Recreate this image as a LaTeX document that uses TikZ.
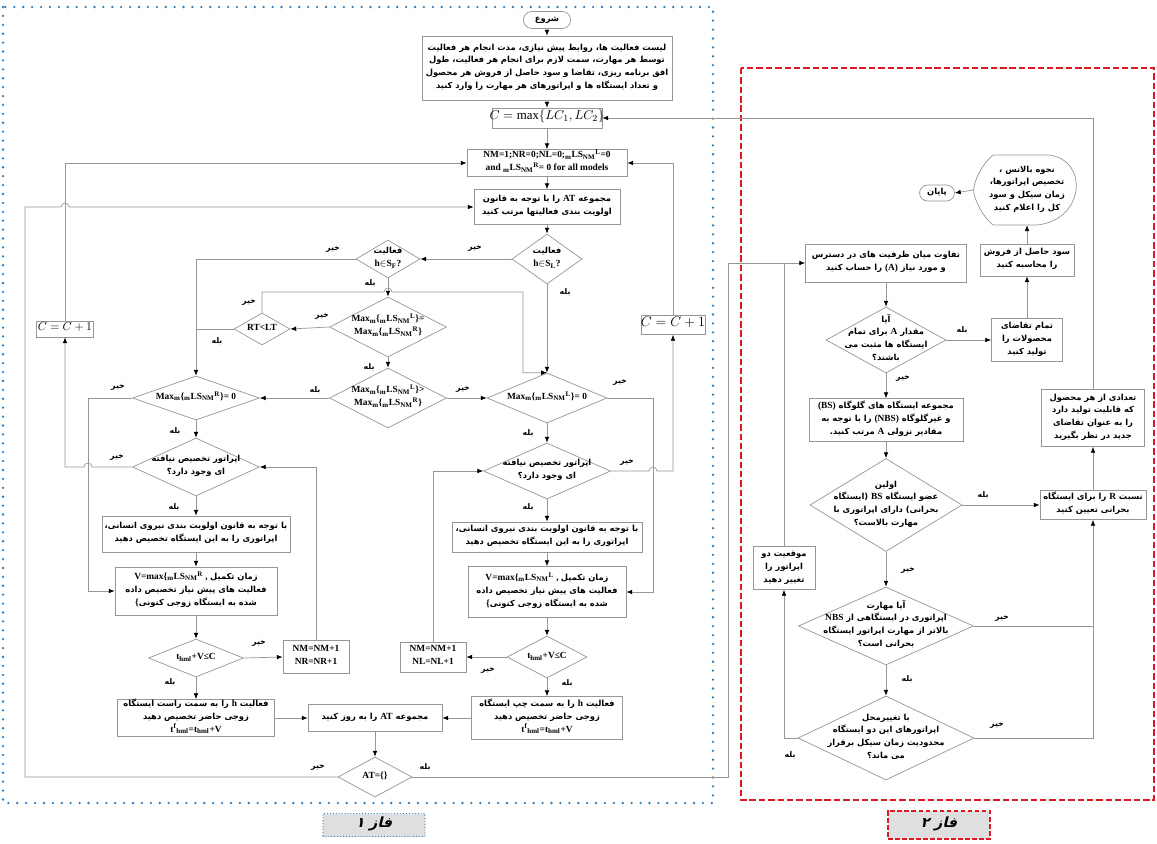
\documentclass[tikz,border=0pt]{standalone}
\usepackage{fontspec}
\setmainfont{Liberation Serif}
\newfontfamily\farsi[Script=Arabic,Scale=0.89]{DejaVu Sans}
\newfontfamily\farsislant[Script=Arabic,FakeSlant=0.25]{DejaVu Sans}
\usetikzlibrary{shapes,arrows.meta,positioning,calc}
\TeXXeTstate=1
\definecolor{phaseblue}{RGB}{45,125,185}
\definecolor{phasered}{RGB}{220,25,35}
\definecolor{linegray}{RGB}{150,150,150}
\newcommand\fnt{\fontsize{8}{11}\selectfont\bfseries}
\newcommand\fsml{\fontsize{7.5}{8}\selectfont\bfseries}
\newcommand\fa[1]{{\farsi\beginR #1\endR}}
\newcommand\la[1]{{\rmfamily #1}}
\newcommand\boxtext[1]{\makebox[0pt]{\raisebox{-.25em}{\smash{\begin{tabular}{@{}c@{}}#1\end{tabular}}}}}
\newcommand\mls[1]{\textsubscript{m}LS\textsubscript{NM}\textsuperscript{#1}}
\newcommand\yes{\fa{بله}}
\newcommand\no{\fa{خیر}}
\tikzset{
  proc/.style={draw=linegray, line width=0.6pt, fill=white, inner sep=0pt, font=\fnt},
  dec/.style={diamond, draw=linegray, line width=0.6pt, fill=white, inner sep=0pt, font=\fnt},
  term/.style={proc, rounded corners=7pt},
  lab/.style={font=\fsml, inner sep=0pt},
  flow/.style={draw=linegray, line width=0.6pt},
  arr/.style={flow, -{Latex[length=5pt,width=4pt,color=black]}},
  phaseone/.style={draw=phaseblue, line width=2.2pt, line cap=round, dash pattern=on 0pt off 7.6pt},
  phasetwo/.style={draw=phasered, line width=2.4pt, dash pattern=on 5.5pt off 2.5pt},
  tagone/.style={fill=gray!25, draw=phaseblue, line width=1pt, line cap=round, dash pattern=on 0pt off 2.5pt, inner sep=0pt, font=\fnt},
  tagtwo/.style={fill=gray!25, draw=phasered, line width=2pt, dash pattern=on 4pt off 2pt, inner sep=0pt, font=\fnt}
}

\begin{document}
\begin{tikzpicture}[x=0.03cm, y=-0.03cm]
\useasboundingbox (0,0) rectangle (1157,843);

% phase frames
\draw[phaseone] (3,7) rectangle (713,803);
\draw[phasetwo] (741,68) rectangle (1154,800);
\node[tagone, minimum width=3.06cm, minimum height=0.69cm] (faz1) at (374,825) {\boxtext{\fontsize{12}{14}\selectfont\farsislant\beginR فاز ۱\endR}};
\node[tagtwo, minimum width=3.06cm, minimum height=0.84cm] (faz2) at (939,825) {\boxtext{\fontsize{12}{14}\selectfont\farsislant\beginR فاز ۲\endR}};

% phase 1: main column
\node[term, minimum width=1.41cm, minimum height=0.51cm] (start) at (547,20) {\boxtext{\fa{شروع}}};
\node[proc, minimum width=7.5cm, minimum height=1.92cm] (input) at (547,68) {\boxtext{%
  \fa{لیست فعالیت ها، روابط پیش نیازی، مدت انجام هر فعالیت}\\
  \fa{توسط هر مهارت، سمت لازم برای انجام هر فعالیت، طول}\\
  \fa{افق برنامه ریزی، تقاضا و سود حاصل از فروش هر محصول}\\
  \fa{و تعداد ایستگاه ها و اپراتورهای هر مهارت را وارد کنید}}};
\node[proc, minimum width=3.3cm, minimum height=0.6cm] (cmax) at (547,118) {\boxtext{\fontsize{11}{12}\selectfont\mdseries $C=\max\{LC_1,LC_2\}$}};
\node[proc, minimum width=4.8cm, minimum height=0.81cm] (init) at (547,163) {\boxtext{NM=1;NR=0;NL=0;\mls{L}=0\\and \mls{R}= 0 for all models}};
\node[proc, minimum width=4.38cm, minimum height=1.05cm] (sortAT) at (547,207) {\boxtext{\fa{مجموعه \la{AT} را با توجه به قانون}\\\fa{اولویت بندی فعالیتها مرتب کنید}}};
\node[dec, minimum width=2.1cm, minimum height=1.5cm] (hcsL) at (547,259) {\boxtext{\fa{فعالیت}\\h$\in$S\textsubscript{L}?}};
\node[dec, minimum width=1.92cm, minimum height=1.14cm] (hcsF) at (388,259) {\boxtext{\fa{فعالیت}\\h$\in$S\textsubscript{F}?}};

% phase 1: comparison of the two sides
\node[dec, minimum width=3.51cm, minimum height=1.8cm] (maxeq) at (388,327) {\boxtext{Max\textsubscript{m}\{\mls{L}\}=\\Max\textsubscript{m}\{\mls{R}\}}};
\node[dec, minimum width=1.68cm, minimum height=0.96cm] (rtlt) at (262,329) {\boxtext{RT<LT}};
\node[dec, minimum width=3.51cm, minimum height=1.8cm] (maxgt) at (388,398) {\boxtext{Max\textsubscript{m}\{\mls{L}\}>\\Max\textsubscript{m}\{\mls{R}\}}};
\node[dec, minimum width=3.81cm, minimum height=1.32cm] (maxR) at (196,398) {\boxtext{Max\textsubscript{m}\{\mls{R}\}= 0}};
\node[dec, minimum width=3.6cm, minimum height=1.5cm] (maxL) at (547,398) {\boxtext{Max\textsubscript{m}\{\mls{L}\}= 0}};

% phase 1: right side of the pair station
\node[dec, minimum width=3.81cm, minimum height=1.74cm] (opR) at (196,467) {\boxtext{\fa{اپراتور تخصیص نیافته}\\\fa{ای وجود دارد؟}}};
\node[proc, minimum width=5.64cm, minimum height=1.08cm] (asgR) at (196,534) {\boxtext{\fa{با توجه به قانون اولویت بندی نیروی انسانی،}\\\fa{اپراتوری را به این ایستگاه تخصیص دهید}}};
\node[proc, minimum width=4.86cm, minimum height=1.44cm] (vR) at (196,591) {\boxtext{V=max\{\mls{R} ,\ \fa{زمان تکمیل}\\\fa{فعالیت های پیش نیاز تخصیص داده}\\\{\fa{شده به ایستگاه زوجی کنونی}}};
\node[dec, minimum width=2.85cm, minimum height=1.14cm] (tR) at (196,658) {\boxtext{t\textsubscript{hml}+V≤C}};
\node[proc, minimum width=1.98cm, minimum height=0.99cm] (nR) at (316,657) {\boxtext{NM=NM+1\\NR=NR+1}};
\node[proc, minimum width=4.71cm, minimum height=1.11cm] (rightR) at (196,718) {\boxtext{\fa{فعالیت \la{h} را به سمت راست ایستگاه}\\\fa{زوجی حاضر تخصیص دهید}\\t\textsuperscript{f}\textsubscript{hml}=t\textsubscript{hml}+V}};
\node[proc, minimum width=1.71cm, minimum height=0.48cm] (ccL) at (65,329) {\boxtext{\fontsize{10}{11}\selectfont\mdseries $C=C+1$}};

% phase 1: left side of the pair station
\node[dec, minimum width=3.81cm, minimum height=1.68cm] (opL) at (547,471) {\boxtext{\fa{اپراتور تخصیص نیافته}\\\fa{ای وجود دارد؟}}};
\node[proc, minimum width=5.7cm, minimum height=0.9cm] (asgL) at (547,537) {\boxtext{\fa{با توجه به قانون اولویت بندی نیروی انسانی،}\\\fa{اپراتوری را به این ایستگاه تخصیص دهید}}};
\node[proc, minimum width=4.74cm, minimum height=1.53cm] (vL) at (547,592) {\boxtext{V=max\{\mls{L} ,\ \fa{زمان تکمیل}\\\fa{فعالیت های پیش نیاز تخصیص داده}\\\{\fa{شده به ایستگاه زوجی کنونی}}};
\node[dec, minimum width=2.4cm, minimum height=1.26cm] (tL) at (547,657) {\boxtext{t\textsubscript{hml}+V≤C}};
\node[proc, minimum width=1.98cm, minimum height=0.9cm] (nL) at (433,657) {\boxtext{NM=NM+1\\NL=NL+1}};
\node[proc, minimum width=4.53cm, minimum height=1.29cm] (leftL) at (547,718) {\boxtext{\fa{فعالیت \la{h} را به سمت چپ ایستگاه}\\\fa{زوجی حاضر تخصیص دهید}\\t\textsuperscript{f}\textsubscript{hml}=t\textsubscript{hml}+V}};
\node[proc, minimum width=1.92cm, minimum height=0.57cm] (ccR) at (673,325) {\boxtext{\fontsize{11.5}{13}\selectfont\mdseries $C=C+1$}};
\node[proc, minimum width=4.02cm, minimum height=0.81cm] (updAT) at (375,718) {\boxtext{\fa{مجموعه \la{AT} را به روز کنید}}};
\node[dec, minimum width=2.22cm, minimum height=1.2cm] (atE) at (375,777) {\boxtext{AT=\{\}}};

% phase 2
\node[proc, minimum width=4.83cm, minimum height=1.14cm] (diff) at (886,263) {\boxtext{\fa{تفاوت میان ظرفیت های در دسترس}\\\fa{و مورد نیاز \la{(A)} را حساب کنید}}};
\node[dec, minimum width=3.6cm, minimum height=1.98cm] (posA) at (886,340) {\boxtext{\fa{آیا}\\\fa{مقدار \la{A} برای تمام}\\\fa{ایستگاه ها مثبت می}\\\fa{باشند؟}}};
\node[proc, minimum width=2.13cm, minimum height=1.29cm] (prod) at (1027,340) {\boxtext{\fa{تمام تقاضای}\\\fa{محصولات را}\\\fa{تولید کنید}}};
\node[proc, minimum width=2.82cm, minimum height=0.96cm] (profit) at (1027,260) {\boxtext{\fa{سود حاصل از فروش}\\\fa{را محاسبه کنید}}};
\node[inner sep=0pt, font=\fnt, minimum width=3.21cm, minimum height=2.1cm] (report) at (1027,190) {\boxtext{\fa{نحوه بالانس ،}\\\fa{تخصیص اپراتورها،}\\\fa{زمان سیکل و سود}\\\fa{کل را اعلام کنید}}};
\draw[flow, shift={(report.center)}] (-34,-35) -- (22,-35) .. controls (62,-30) and (58,30) .. (10,35) -- (-34,35)
  .. controls (-46,25) and (-53,8) .. (-53.5,0) .. controls (-53,-8) and (-46,-25) .. (-34,-35) -- cycle;
\node[term, minimum width=1.05cm, minimum height=0.48cm] (endn) at (937,193) {\boxtext{\fa{پایان}}};
\node[proc, minimum width=4.62cm, minimum height=1.29cm] (sortBS) at (886,420) {\boxtext{\fa{مجموعه ایستگاه های گلوگاه \la{(BS)}}\\\fa{و غیرگلوگاه \la{(NBS)} را با توجه به}\\\fa{مقادیر نزولی \la{A} مرتب کنید.}}};
\node[dec, minimum width=4.56cm, minimum height=2.79cm] (firstBS) at (886,505) {\boxtext{\fa{اولین}\\\fa{عضو ایستگاه \la{BS} (ایستگاه}\\\fa{بحرانی) دارای اپراتوری با}\\\fa{مهارت بالاست؟}}};
\node[proc, minimum width=3.18cm, minimum height=0.87cm] (ratio) at (1093,505) {\boxtext{\fa{نسبت \la{R} را برای ایستگاه}\\\fa{بحرانی تعیین کنید}}};
\node[proc, minimum width=3.09cm, minimum height=1.71cm] (newdem) at (1093,418) {\boxtext{\fa{تعدادی از هر محصول}\\\fa{که قابلیت تولید دارد}\\\fa{را به عنوان تقاضای}\\\fa{جدید در نظر بگیرید}}};
\node[dec, minimum width=5.25cm, minimum height=2.34cm] (skill) at (886,626) {\boxtext{\fa{آیا مهارت}\\\fa{اپراتوری در ایستگاهی از \la{NBS}}\\\fa{بالاتر از مهارت اپراتور ایستگاه}\\\fa{بحرانی است؟}}};
\node[dec, minimum width=5.28cm, minimum height=2.52cm] (swap) at (886,738) {\boxtext{\fa{با تغییرمحل}\\\fa{اپراتورهای این دو ایستگاه}\\\fa{محدودیت زمان سیکل برقرار}\\\fa{می ماند؟}}};
\node[proc, minimum width=1.86cm, minimum height=1.29cm] (move) at (784,568) {\boxtext{\fa{موقعیت دو}\\\fa{اپراتور را}\\\fa{تغییر دهید}}};

% helper points for bends and line jumps
\coordinate (barY) at (0,292);
\coordinate (turnB) at (523,292);
\coordinate (jmpA) at (hcsF.south |- barY);
\coordinate (edgeW) at (25,0);
\coordinate (edgeE) at (728,0);
\coordinate (xRR) at (88,0);
\coordinate (xLL) at (653,0);
\coordinate (jmpB) at (ccL.north |- sortAT.west);
\coordinate (jmpC) at (xRR |- opR.west);
\coordinate (jmpD) at (xLL |- opL.east);

% phase 1 connectors
\draw[arr] (start.south) -- (input.north);
\draw[arr] (input.south) -- (cmax.north);
\draw[arr] (cmax.south) -- (init.north);
\draw[arr] (init.south) -- (sortAT.north);
\draw[arr] (sortAT.south) -- (hcsL.north);
\draw[arr] (hcsL.west) -- (hcsF.east);
\draw[arr] (hcsF.west) -| (maxR.north);
\draw[arr] (hcsF.south) -- (maxeq.north);
\draw[arr] (rtlt.north) |- ($(jmpA)+(-4,0)$) arc[start angle=180, end angle=0, radius=3.4pt] -- (turnB) |- (maxL.north);
\draw[arr] (hcsL.south) -- (maxL.north);
\draw[arr] (maxeq.west) -- (rtlt.east);
\draw[flow] (rtlt.west) -- (rtlt.west -| maxR.north);
\draw[arr] (maxeq.south) -- (maxgt.north);
\draw[arr] (maxgt.west) -- (maxR.east);
\draw[arr] (maxgt.east) -- (maxL.west);

\draw[arr] (maxR.south) -- (opR.north);
\draw[arr] (maxR.west) -| (xRR |- vR.west) -- (vR.west);
\draw[arr] (opR.west) -- ($(jmpC)+(4,0)$) arc[start angle=0, end angle=180, radius=3.4pt] -| (ccL.south);
\draw[arr] (ccL.north) |- (init.west);
\draw[arr] (opR.south) -- (asgR.north);
\draw[arr] (asgR.south) -- (vR.north);
\draw[arr] (vR.south) -- (tR.north);
\draw[arr] (tR.east) -- (nR.west);
\draw[arr] (nR.north) |- (opR.east);
\draw[arr] (tR.south) -- (rightR.north);
\draw[arr] (rightR.east) -- (updAT.west);

\draw[arr] (maxL.south) -- (opL.north);
\draw[arr] (maxL.east) -| (xLL |- vL.east) -- (vL.east);
\draw[arr] (opL.east) -- ($(jmpD)+(-4,0)$) arc[start angle=180, end angle=0, radius=3.4pt] -| (ccR.south);
\draw[arr] (ccR.north) |- (init.east);
\draw[arr] (opL.south) -- (asgL.north);
\draw[arr] (asgL.south) -- (vL.north);
\draw[arr] (vL.south) -- (tL.north);
\draw[arr] (tL.west) -- (nL.east);
\draw[arr] (nL.north) |- (opL.west);
\draw[arr] (tL.south) -- (leftL.north);
\draw[arr] (leftL.west) -- (updAT.east);

\draw[arr] (updAT.south) -- (atE.north);
\draw[arr] (atE.west) -| (edgeW |- sortAT.west) -- ($(jmpB)+(-4,0)$) arc[start angle=180, end angle=0, radius=3.4pt] -- (sortAT.west);
\draw[arr] (atE.east) -| (edgeE |- diff.west) -- (diff.west);

% phase 2 connectors
\draw[arr] (diff.south) -- (posA.north);
\draw[arr] (posA.east) -- (prod.west);
\draw[arr] (prod.north) -- (profit.south);
\draw[arr] (profit.north) -- (report.south);
\draw[arr] (report.west) -- (endn.east);
\draw[arr] (posA.south) -- (sortBS.north);
\draw[arr] (sortBS.south) -- (firstBS.north);
\draw[arr] (firstBS.east) -- (ratio.west);
\draw[arr] (ratio.north) -- (newdem.south);
\draw[arr] (newdem.north) |- (cmax.east);
\draw[arr] (firstBS.south) -- (skill.north);
\draw[arr] (skill.east) -| (ratio.south);
\draw[arr] (skill.south) -- (swap.north);
\draw[flow] (swap.east) -| (ratio.south |- skill.east);
\draw[arr] (swap.west) -| (move.south);
\draw[flow] (move.north) -- (move.north |- diff.west);

% yes / no labels
\node[lab] (noL) at (475,248) {\no};
\node[lab] (noF) at (333,249) {\no};
\node[lab] (yesF) at (370,283) {\yes};
\node[lab] (yesL) at (565,292) {\yes};
\node[lab] (noEq) at (322,316) {\no};
\node[lab] (noRT) at (249,302) {\no};
\node[lab] (yesRT) at (217,341) {\yes};
\node[lab] (yesEq) at (369,367) {\yes};
\node[lab] (yesGt) at (315,390) {\yes};
\node[lab] (noGt) at (463,389) {\no};
\node[lab] (noMR) at (118,387) {\no};
\node[lab] (yesMR) at (175,431) {\yes};
\node[lab] (noOR) at (117,457) {\no};
\node[lab] (yesOR) at (174,507) {\yes};
\node[lab] (noML) at (620,382) {\no};
\node[lab] (yesML) at (528,433) {\yes};
\node[lab] (noOL) at (627,462) {\no};
\node[lab] (yesOL) at (528,507) {\yes};
\node[lab] (noTR) at (259,643) {\no};
\node[lab] (yesTR) at (170,682) {\yes};
\node[lab] (noTL) at (488,670) {\no};
\node[lab] (yesTL) at (567,683) {\yes};
\node[lab] (noAT) at (318,767) {\no};
\node[lab] (yesAT) at (425,767) {\yes};
\node[lab] (yesA) at (962,330) {\yes};
\node[lab] (noA) at (903,378) {\no};
\node[lab] (yesBS) at (983,495) {\yes};
\node[lab] (noBS) at (908,570) {\no};
\node[lab] (noSk) at (1002,618) {\no};
\node[lab] (yesSk) at (907,679) {\yes};
\node[lab] (noSw) at (997,725) {\no};
\node[lab] (yesSw) at (790,755) {\yes};
\end{tikzpicture}
\end{document}
